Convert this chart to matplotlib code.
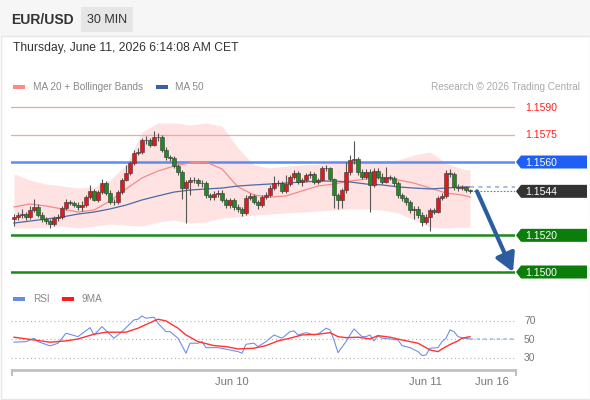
import matplotlib
matplotlib.use("Agg")
import matplotlib.pyplot as plt
from matplotlib.patches import Polygon, Rectangle

plt.rcParams['font.family'] = ['Liberation Sans', 'DejaVu Sans']

# 30 min EUR/USD candles (bar index 0 .. 114)
first_open = 1.15289
closes = [
    1.15300, 1.15311, 1.15316, 1.15300, 1.15338, 1.15355, 1.15311, 1.15289, 1.15278, 1.15262,
    1.15295, 1.15300, 1.15349, 1.15382, 1.15376, 1.15365, 1.15355, 1.15365, 1.15409, 1.15442,
    1.15393, 1.15436, 1.15485, 1.15431, 1.15382, 1.15380, 1.15436, 1.15502, 1.15540, 1.15595,
    1.15649, 1.15655, 1.15720, 1.15718, 1.15693, 1.15736, 1.15734, 1.15665, 1.15627, 1.15622,
    1.15578, 1.15545, 1.15458, 1.15491, 1.15502, 1.15500, 1.15485, 1.15483, 1.15420, 1.15409,
    1.15425, 1.15431, 1.15393, 1.15365, 1.15393, 1.15355, 1.15344, 1.15322, 1.15404, 1.15415,
    1.15382, 1.15365, 1.15409, 1.15420, 1.15458, 1.15485, 1.15483, 1.15442, 1.15480, 1.15518,
    1.15540, 1.15491, 1.15502, 1.15529, 1.15535, 1.15491, 1.15502, 1.15567, 1.15565, 1.15507,
    1.15420, 1.15393, 1.15447, 1.15545, 1.15611, 1.15616, 1.15545, 1.15518, 1.15545, 1.15475,
    1.15551, 1.15518, 1.15491, 1.15518, 1.15513, 1.15485, 1.15420, 1.15404, 1.15382, 1.15338,
    1.15344, 1.15311, 1.15273, 1.15300, 1.15338, 1.15327, 1.15404, 1.15415, 1.15540, 1.15535,
    1.15464, 1.15458, 1.15462, 1.15447, 1.15440,
]
highs = [
    1.15318, 1.15330, 1.15345, 1.15330, 1.15360, 1.15398, 1.15370, 1.15325, 1.15300, 1.15290,
    1.15305, 1.15318, 1.15360, 1.15400, 1.15395, 1.15390, 1.15380, 1.15385, 1.15420, 1.15475,
    1.15455, 1.15450, 1.15505, 1.15495, 1.15445, 1.15400, 1.15450, 1.15515, 1.15585, 1.15605,
    1.15665, 1.15675, 1.15730, 1.15740, 1.15730, 1.15770, 1.15760, 1.15745, 1.15680, 1.15640,
    1.15635, 1.15590, 1.15555, 1.15500, 1.15520, 1.15520, 1.15515, 1.15500, 1.15495, 1.15430,
    1.15440, 1.15445, 1.15445, 1.15405, 1.15405, 1.15405, 1.15370, 1.15355, 1.15420, 1.15430,
    1.15425, 1.15395, 1.15420, 1.15435, 1.15475, 1.15525, 1.15500, 1.15495, 1.15530, 1.15530,
    1.15555, 1.15550, 1.15515, 1.15540, 1.15550, 1.15545, 1.15515, 1.15580, 1.15585, 1.15575,
    1.15515, 1.15430, 1.15460, 1.15600, 1.15640, 1.15715, 1.15630, 1.15560, 1.15560, 1.15560,
    1.15570, 1.15565, 1.15540, 1.15575, 1.15530, 1.15525, 1.15495, 1.15430, 1.15415, 1.15395,
    1.15360, 1.15360, 1.15325, 1.15315, 1.15350, 1.15350, 1.15415, 1.15430, 1.15555, 1.15560,
    1.15545, 1.15480, 1.15475, 1.15470, 1.15455,
]
lows = [
    1.15250, 1.15285, 1.15295, 1.15285, 1.15290, 1.15325, 1.15300, 1.15275, 1.15262, 1.15240,
    1.15250, 1.15280, 1.15290, 1.15340, 1.15365, 1.15355, 1.15340, 1.15335, 1.15355, 1.15400,
    1.15385, 1.15380, 1.15425, 1.15420, 1.15370, 1.15365, 1.15370, 1.15425, 1.15495, 1.15530,
    1.15585, 1.15640, 1.15645, 1.15700, 1.15680, 1.15685, 1.15715, 1.15655, 1.15610, 1.15605,
    1.15565, 1.15530, 1.15400, 1.15265, 1.15420, 1.15485, 1.15470, 1.15465, 1.15405, 1.15395,
    1.15395, 1.15410, 1.15380, 1.15350, 1.15350, 1.15340, 1.15330, 1.15305, 1.15310, 1.15395,
    1.15370, 1.15345, 1.15355, 1.15400, 1.15410, 1.15450, 1.15470, 1.15430, 1.15430, 1.15470,
    1.15505, 1.15480, 1.15470, 1.15490, 1.15515, 1.15480, 1.15480, 1.15495, 1.15550, 1.15495,
    1.15350, 1.15345, 1.15350, 1.15430, 1.15530, 1.15590, 1.15530, 1.15505, 1.15505, 1.15327,
    1.15465, 1.15505, 1.15480, 1.15485, 1.15500, 1.15470, 1.15405, 1.15390, 1.15365, 1.15320,
    1.15290, 1.15295, 1.15250, 1.15260, 1.15225, 1.15315, 1.15320, 1.15395, 1.15405, 1.15520,
    1.15450, 1.15440, 1.15445, 1.15435, 1.15430,
]

# indicators read every 4th bar
band_idx = [0, 4, 8, 12, 16, 20, 24, 28, 32, 36, 40, 44, 48, 52, 56, 60, 64, 68, 72, 76,
            80, 84, 88, 92, 96, 100, 104, 108, 112, 114]
bb_upper = [1.15535, 1.15502, 1.15480, 1.15469, 1.15458, 1.15464, 1.15502, 1.15584, 1.15764, 1.15813,
            1.15813, 1.15802, 1.15813, 1.15796, 1.15676, 1.15584, 1.15567, 1.15578, 1.15584, 1.15589,
            1.15595, 1.15600, 1.15600, 1.15606, 1.15611, 1.15638, 1.15655, 1.15595, 1.15562, 1.15556]
bb_lower = [1.15240, 1.15240, 1.15245, 1.15251, 1.15240, 1.15251, 1.15262, 1.15256, 1.15251, 1.15273,
            1.15284, 1.15267, 1.15273, 1.15295, 1.15300, 1.15311, 1.15316, 1.15322, 1.15327, 1.15333,
            1.15338, 1.15344, 1.15344, 1.15338, 1.15322, 1.15284, 1.15245, 1.15240, 1.15245, 1.15245]
ma20 = [1.15355, 1.15371, 1.15360, 1.15344, 1.15327, 1.15338, 1.15387, 1.15453, 1.15513, 1.15551,
        1.15578, 1.15595, 1.15600, 1.15562, 1.15464, 1.15420, 1.15409, 1.15415, 1.15442, 1.15469,
        1.15480, 1.15496, 1.15507, 1.15513, 1.15502, 1.15485, 1.15458, 1.15431, 1.15420, 1.15409]
ma50 = [1.15267, 1.15278, 1.15289, 1.15300, 1.15316, 1.15327, 1.15344, 1.15365, 1.15393, 1.15415,
        1.15436, 1.15447, 1.15453, 1.15458, 1.15469, 1.15475, 1.15480, 1.15485, 1.15491, 1.15496,
        1.15496, 1.15491, 1.15480, 1.15475, 1.15464, 1.15458, 1.15453, 1.15458, 1.15464, 1.15464]

rsi_idx = [0, 3, 5, 6, 9, 11, 13, 16, 19, 20, 22, 25, 27, 30, 31, 32, 33, 35, 36, 38,
           39, 41, 43, 44, 46, 47, 48, 51, 54, 56, 57, 58, 60, 61, 63, 65, 67, 69, 70, 71,
           73, 75, 76, 78, 79, 80, 81, 83, 84, 85, 87, 88, 89, 90, 91, 92, 94, 96, 97, 99,
           101, 102, 103, 104, 106, 107, 108, 109, 110, 111, 112, 114]
rsi_val = [46.8, 47.4, 51.1, 47.4, 42.8, 45.7, 56.5, 52.8, 62.5, 54.6, 63.6, 51.1, 58.2, 70.9, 71.6, 75.2, 72.7, 73.8, 67.3, 58.2,
           58.2, 51.1, 34.9, 45.7, 45.7, 47.4, 40.9, 40.9, 38.4, 36.6, 34.9, 44.6, 45.7, 42.0, 47.4, 54.6, 51.1, 58.2, 59.0, 54.6,
           57.1, 54.6, 55.4, 61.9, 60.1, 49.2, 35.5, 47.4, 54.6, 61.1, 52.8, 52.8, 54.6, 48.2, 53.6, 51.1, 50.3, 49.2, 43.1, 40.9,
           36.6, 32.3, 33.0, 40.3, 40.9, 47.4, 51.1, 60.1, 58.2, 52.8, 51.7, 50.3]
rsi_ma_idx = [0, 5, 9, 13, 16, 20, 23, 28, 31, 35, 36, 38, 41, 43, 46, 50, 53, 56, 60, 63,
              66, 69, 72, 76, 79, 81, 83, 86, 89, 91, 94, 97, 101, 104, 106, 107, 109, 111, 112, 114]
rsi_ma_val = [52.2, 49.2, 46.8, 48.2, 50.3, 55.4, 57.6, 57.6, 61.9, 69.8, 71.6, 69.8, 61.9, 54.6, 47.4, 43.1, 42.0, 39.5, 40.3, 43.1,
              48.2, 51.1, 54.6, 55.4, 57.1, 52.8, 51.7, 52.2, 50.3, 53.9, 52.2, 49.2, 45.7, 38.4, 36.6, 39.5, 44.3, 48.2, 51.1, 52.8]

resistances = [1.1590, 1.1575]
pivot = 1.1560
last_price = 1.1544
supports = [1.1520, 1.1500]
rsi_levels = [70, 50, 30]

date_pos = [54.5, 102.75, 119.5]
date_labels = ['Jun 10', 'Jun 11', 'Jun 16']

W, H = 590, 400
fig = plt.figure(figsize=(W / 100, H / 100), dpi=100)
fig.patch.set_facecolor('white')

bg = fig.add_axes([0, 0, 1, 1], zorder=0)
bg.set_xlim(0, W)
bg.set_ylim(H, 0)
bg.axis('off')


def px_axes(left, top, right, bottom, z):
    a = fig.add_axes([left / W, 1 - bottom / H, (right - left) / W, (bottom - top) / H], zorder=z)
    a.axis('off')
    return a


# header
bg.add_patch(Rectangle((0, 0), W, 36, color='#f6f6f6', lw=0))
bg.add_patch(Rectangle((0.5, 36), W - 1, H - 37, fill=False, edgecolor='#e6e6e6', lw=1))
bg.text(11, 20, 'EUR/USD', fontsize=10, fontweight='bold', color='#333333', va='center')
bg.add_patch(Rectangle((81, 7), 52, 25, color='#e6e6e6', lw=0))
bg.text(107, 20, '30 MIN', fontsize=9, color='#333333', va='center', ha='center')
bg.text(13, 48, 'Thursday, June 11, 2026 6:14:08 AM CET', fontsize=8.7, color='#333333', va='center')

# legend row
bg.add_patch(Rectangle((13, 84.5), 12, 4, color='#ff8a8a', lw=0))
bg.text(33, 86.5, 'MA 20 + Bollinger Bands', fontsize=7.2, color='#888888', va='center')
bg.add_patch(Rectangle((156, 84.5), 12, 4, color='#3a62a0', lw=0))
bg.text(175, 86.5, 'MA 50', fontsize=7.2, color='#888888', va='center')
bg.text(580, 86.5, 'Research \u00a9 2026 Trading Central', fontsize=7.2, color='#aaaaaa',
        va='center', ha='right')

# price panel
ax = px_axes(11, 95, 515, 283, 2)
ax.set_xlim(-0.75, 125.25)
ax.set_ylim(1.14940, 1.159655)

ax.fill_between(band_idx, bb_lower, bb_upper, color='#ffe2e2', lw=0, zorder=1)
ax.plot(band_idx, ma20, color='#f58a8a', lw=0.9, zorder=2)
ax.plot(band_idx, ma50, color='#4a6aa8', lw=0.9, zorder=2)

for lv in resistances:
    ax.axhline(lv, color='#f3a5a5', lw=0.9, zorder=1.5)
ax.axhline(pivot, color='#5d8cf2', lw=1.8, zorder=1.5)
for lv in supports:
    ax.axhline(lv, color='#1a8a1a', lw=1.8, zorder=1.5)

opens = [first_open] + closes[:-1]
for i, (o, h, l, c) in enumerate(zip(opens, highs, lows, closes)):
    col = '#e8161b' if c >= o else '#1f8a1f'
    ax.vlines(i, l, h, color='#555555', lw=0.8, zorder=3)
    body = max(abs(c - o), 0.00003)
    ax.add_patch(Rectangle((i - 0.4, min(o, c)), 0.8, body, facecolor=col,
                           edgecolor='#3a3a3a', lw=0.4, zorder=4))

n = len(closes)
ax.hlines(last_price, n - 1, 125.25, colors='#777777', linestyles=(0, (1.5, 1.5)), lw=0.8, zorder=3)
ax.hlines(ma50[-1], band_idx[-1], 125.25, colors='#a9bde0', linestyles=(0, (2, 2)), lw=1.5, zorder=3)

ax.annotate('', xy=(124.75, 1.1500), xytext=(115.75, last_price),
            arrowprops=dict(arrowstyle='-|>,head_length=0.9,head_width=0.5', color='#2c5da0',
                            lw=3, shrinkA=0, shrinkB=0, mutation_scale=12),
            annotation_clip=False, zorder=6)


def ppx(p):
    return H - ax.transData.transform((0, p))[1]


def tag(p, text, face):
    y = ppx(p)
    bg.add_patch(Polygon([(516, y), (521, y - 6.5), (587, y - 6.5), (587, y + 6.5), (521, y + 6.5)],
                         closed=True, facecolor=face, edgecolor='none'))
    bg.text(525, y + 0.5, text, fontsize=7.5, color='white', va='center')


for lv in resistances:
    bg.text(525, ppx(lv) + 0.5, f'{lv:.4f}', fontsize=7.5, color='#ff1f1f', va='center')
tag(pivot, f'{pivot:.4f}', '#1f5ff5')
tag(last_price, f'{last_price:.4f}', '#333333')
for lv in supports:
    tag(lv, f'{lv:.4f}', '#0a7d0a')

# RSI panel
bg.add_patch(Rectangle((13, 296.5), 12, 4, color='#6a8ae8', lw=0))
bg.text(33, 298.5, 'RSI', fontsize=7.2, color='#888888', va='center')
bg.add_patch(Rectangle((62, 296.5), 12, 4, color='#ff1a1a', lw=0))
bg.text(82, 298.5, '9MA', fontsize=7.2, color='#888888', va='center')

rax = px_axes(11, 300, 515, 368, 2)
rax.set_xlim(-0.75, 125.25)
rax.set_ylim(18.9, 92.4)
for lv in rsi_levels:
    rax.axhline(lv, color='#b0b0b0', lw=0.8, ls=(0, (1, 2.5)), zorder=1)
    ry = H - rax.transData.transform((0, lv))[1]
    bg.text(524, ry + 0.5, str(lv), fontsize=7.5, color='#777777', va='center')
rax.plot(rsi_idx, rsi_val, color='#7090e8', lw=0.8, zorder=3)
rax.plot(rsi_ma_idx, rsi_ma_val, color='#ff3333', lw=1.0, zorder=4)
rax.hlines(rsi_val[-1], rsi_idx[-1], 125.25, colors='#a9bde0', linestyles=(0, (2, 2)), lw=1.2, zorder=2)

# time axis
bg.plot([11, 516], [370, 370], color='#c0c0c0', lw=2, solid_capstyle='butt')
bg.plot([11.5, 11.5], [370, 375], color='#c0c0c0', lw=1.5)
bg.plot([515.5, 515.5], [370, 375], color='#c0c0c0', lw=1.5)
for pos, lab in zip(date_pos, date_labels):
    xp = ax.transData.transform((pos, 1.155))[0]
    bg.text(xp, 382, lab, fontsize=8, color='#777777', ha='center', va='center')

fig.savefig('out.png', dpi=100)
